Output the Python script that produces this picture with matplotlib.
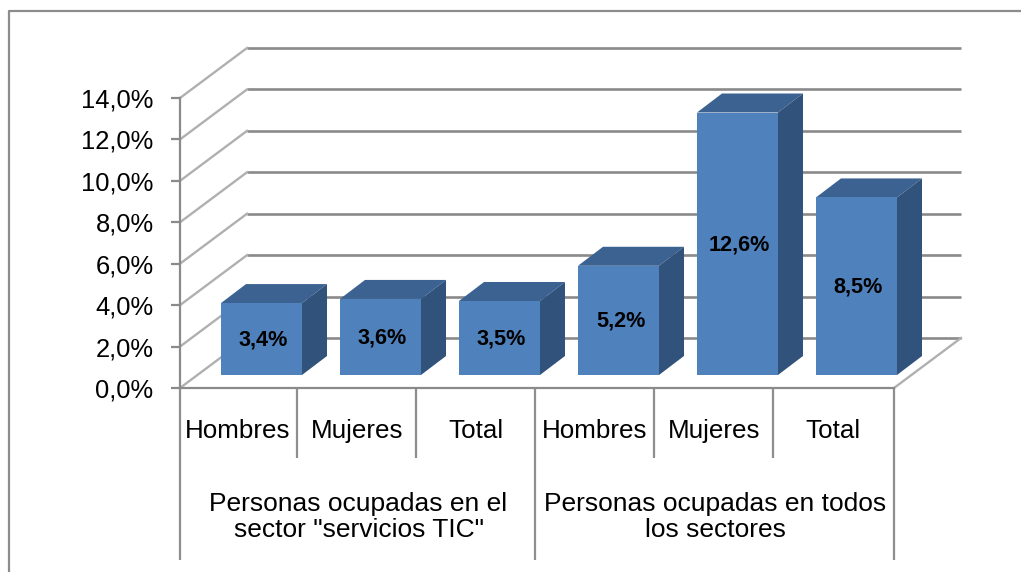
import matplotlib
matplotlib.use('Agg')
import matplotlib.pyplot as plt
from matplotlib.patches import Polygon
from matplotlib.ticker import FuncFormatter

plt.rcParams['font.family'] = ['Liberation Sans', 'DejaVu Sans']

# Data
categories = ['Hombres', 'Mujeres', 'Total', 'Hombres', 'Mujeres', 'Total']
groups = ['Personas ocupadas en el\nsector "servicios TIC"',
          'Personas ocupadas en todos\nlos sectores']
values = [3.4, 3.6, 3.5, 5.2, 12.6, 8.5]
y_ticks = [0, 2, 4, 6, 8, 10, 12, 14]

# Pixel size of the picture and of the front plane of the 3D box
W, H = 1021, 572
left, right, bottom, top = 180, 894, 388, 98

fig = plt.figure(figsize=(W / 100, H / 100), dpi=100)

# Outer chart border, only left and top fall inside the picture
frame = fig.add_axes([0, 0, 1, 1])
frame.set_xlim(0, W)
frame.set_ylim(H, 0)
frame.axis('off')
frame.plot([9, 9, W], [H, 11, 11], color='#8c8c8c', lw=1.6)

ax = fig.add_axes([left / W, 1 - bottom / H, (right - left) / W, (bottom - top) / H])
ax.patch.set_alpha(0)
ax.set_xlim(0, len(values))
ax.set_ylim(0, 14)

# Depth of the box and of the bars, in data units
px_x = len(values) / (right - left)
px_y = 14 / (bottom - top)
box_dx, box_dy = 67 * px_x, 50 * px_y
bar_dx, bar_dy = 25 * px_x, 19 * px_y
bar_w = 81 * px_x
bar_off = 41 * px_x
bar_base = 13 * px_y
bar_lift = 1.5 * px_y

# Back wall gridlines and the diagonals on the side and floor
for t in y_ticks:
    ax.plot([box_dx, len(values) + box_dx], [t + box_dy, t + box_dy],
            color='#8a8a8a', lw=1.9, clip_on=False, zorder=1, solid_capstyle='butt')
    ax.plot([0, box_dx], [t, t + box_dy], color='#b0b0b0', lw=1.7, clip_on=False, zorder=1)
ax.plot([len(values), len(values) + box_dx], [0, box_dy], color='#b0b0b0', lw=1.7,
        clip_on=False, zorder=1)

# Bars drawn as three faces
for i, v in enumerate(values):
    x0 = i + bar_off
    x1 = x0 + bar_w
    y0 = bar_base
    y1 = bar_base + v + bar_lift
    ax.add_patch(Polygon([(x0, y1), (x1, y1), (x1 + bar_dx, y1 + bar_dy), (x0 + bar_dx, y1 + bar_dy)],
                         facecolor='#3c6291', edgecolor='none', clip_on=False, zorder=3))
    ax.add_patch(Polygon([(x1, y0), (x1 + bar_dx, y0 + bar_dy), (x1 + bar_dx, y1 + bar_dy), (x1, y1)],
                         facecolor='#30527b', edgecolor='none', clip_on=False, zorder=3))
    ax.add_patch(Polygon([(x0, y0), (x1, y0), (x1, y1), (x0, y1)],
                         facecolor='#4f81bd', edgecolor='none', clip_on=False, zorder=4))
    ax.text(x0 + bar_w / 2 + 2 * px_x, (y0 + y1) / 2 - 1 * px_y, f'{v:.1f}%'.replace('.', ','),
            ha='center', va='center', fontsize=15.6, fontweight='bold', color='black', zorder=5)

# Axes
for s in ['top', 'right']:
    ax.spines[s].set_visible(False)
for s in ['left', 'bottom']:
    ax.spines[s].set_color('#8a8a8a')
    ax.spines[s].set_linewidth(1.6)
ax.set_yticks(y_ticks)
ax.yaxis.set_major_formatter(FuncFormatter(lambda t, pos: f'{t:.1f}%'.replace('.', ',')))
ax.tick_params(axis='y', length=6.5, width=1.6, color='#8a8a8a', labelsize=18.4, pad=12.5)
ax.set_xticks([])

# Multi-level category axis below the plot
for i in range(len(values) + 1):
    low = 172 if i % 3 == 0 else 70
    shift = 0 if i in (0, len(values)) else -2 * px_x
    ax.plot([i + shift, i + shift], [0, -low * px_y], color='#8e8e8e', lw=1.6, clip_on=False,
            solid_capstyle='butt')
for i, c in enumerate(categories):
    ax.text(i + 0.5 - 1.5 * px_x, -43 * px_y, c, ha='center', va='center', fontsize=18.7, clip_on=False)
for i, g in enumerate(groups):
    ax.text(3 * i + 1.5, -129 * px_y, g, ha='center', va='center', fontsize=19,
            linespacing=1.15, clip_on=False)

fig.savefig('out.png', dpi=100)
